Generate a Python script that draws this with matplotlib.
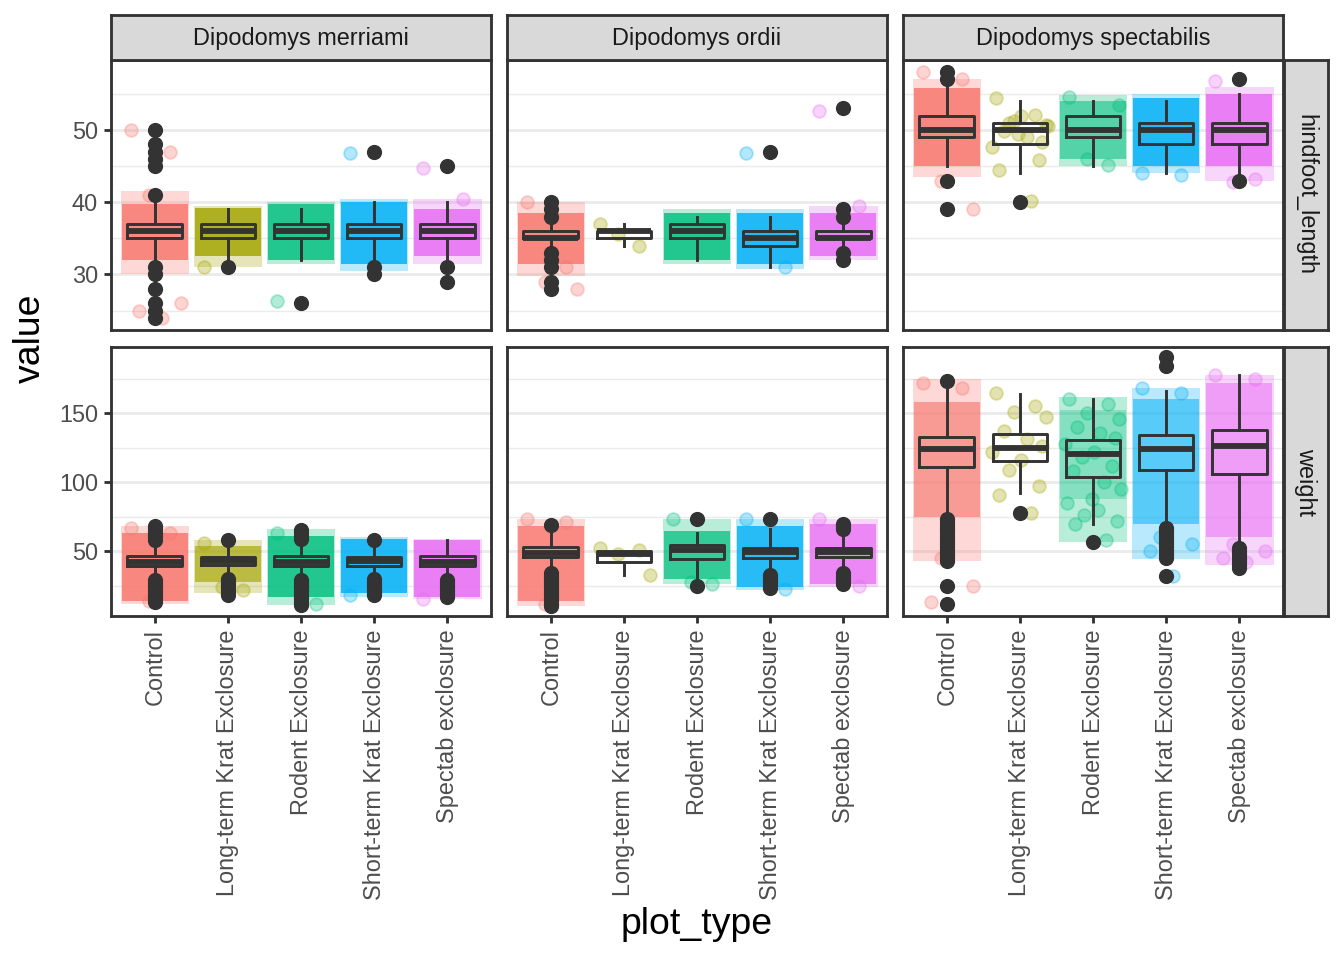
import matplotlib.pyplot as plt
import numpy as np

plt.rcParams['font.family'] = ['Liberation Sans', 'DejaVu Sans']

W, H, DPI = 1344, 960, 192

species = ['Dipodomys merriami', 'Dipodomys ordii', 'Dipodomys spectabilis']
plot_types = ['Control', 'Long-term Krat Exclosure', 'Rodent Exclosure',
              'Short-term Krat Exclosure', 'Spectab exclosure']
measures = ['hindfoot_length', 'weight']
colors = ['#F8766D', '#A3A500', '#00BF7D', '#00B0F6', '#E76BF3']

# ---- hindfoot_length: box stats [species][plot_type]
hf_q1 = [[35, 35, 35, 35, 35], [35, 35, 35, 34, 35], [49, 48, 49, 48, 48]]
hf_med = [[36, 36, 36, 36, 36], [35, 36, 36, 35, 35], [50, 50, 50, 50, 50]]
hf_q3 = [[37, 37, 37, 37, 37], [36, 36, 37, 36, 36], [52, 51, 52, 51, 51]]
hf_wlo = [[32, 32, 32, 32, 32], [34, 34, 32, 31, 34], [45, 44, 45, 44, 44]]
hf_whi = [[40, 39, 39, 40, 40], [37, 37, 38, 38, 37], [56, 54, 54, 54, 55]]
hf_out = [
    [[50, 48, 47, 46, 45, 41, 31, 30, 28, 26, 25, 24], [31], [26], [47, 31, 30], [45, 31, 29]],
    [[40, 39, 38, 33, 32, 31, 29, 28], [], [], [47], [53, 39, 38, 33, 32]],
    [[58, 57, 43, 39], [40], [], [], [57, 43]],
]
# jitter cloud extents: outer (sparse) and dense core, None = only single points
hf_band = [
    [(30, 41.5), (31, 39.5), (31.5, 40), (30.5, 40.5), (31.5, 40.5)],
    [(29.8, 40), None, (31.5, 39), (30.8, 39), (32, 39.5)],
    [(43.5, 57), None, (45, 54.8), (44, 55), (43, 56)],
]
hf_core = [
    [(32, 39.8), (32.5, 39.2), (32, 39.8), (31.5, 40), (32.5, 39)],
    [(31.5, 38.5), None, (32, 38.5), (31.5, 38.5), (32.5, 38.5)],
    [(45, 55.8), None, (46, 54), (45, 54.5), (45, 55)],
]
hf_pts = [
    [[50, 47, 41, 26, 25, 24], [31], [26.3], [46.8], [44.7, 40.5]],
    [[40, 31, 29, 28], [37, 34, 35.6], [], [46.8, 31], [52.6, 39.5]],
    [[58, 57, 43, 39],
     [54.4, 52.1, 51.2, 50.7, 49.8, 49.1, 48.4, 47.7, 52, 51, 45.8, 44.5, 40.1, 50.5, 49.5],
     [54.6, 45.2, 46, 53.5], [44, 43.8], [56.8, 43.2, 42.8]],
]

# ---- weight
wt_q1 = [[39, 40, 39, 39, 39], [45.5, 42.5, 44.5, 45, 46], [111, 115.5, 104, 109, 106]]
wt_med = [[42, 43, 42, 43, 42], [49, 48, 51, 49.3, 49.3], [124, 125, 120.4, 124, 126.4]]
wt_q3 = [[46.5, 46, 46.5, 46, 46.5], [53, 50, 54.6, 52.6, 52.5], [133, 135, 130.5, 134, 138]]
wt_wlo = [[30, 33, 30, 32, 30], [35, 33, 29.5, 35, 36], [75, 92, 70, 69, 54]]
wt_whi = [[57, 54, 57, 56, 58], [63, 50, 63, 66, 64], [170, 164, 160, 166, 178]]
wt_out = [
    [[58, 60, 62, 64, 66, 68, 13, 15, 17, 19, 21, 23, 25, 27, 29],
     [58, 18, 20, 22, 24, 26, 28, 30],
     [59, 61, 63, 65, 11, 13, 15, 17, 19, 21, 23, 25, 27, 29],
     [58, 18, 20, 22, 24, 26, 28, 30],
     [17, 19, 21, 23, 25, 27, 29]],
    [[69, 10, 12, 14, 16, 18, 20, 22, 24, 26, 28, 30, 32, 34],
     [],
     [73, 25],
     [73, 23, 25, 27, 29, 31, 33],
     [66, 68, 70, 26, 28, 30, 32, 34]],
    [[173, 43, 45, 47, 49, 51, 53, 55, 57, 59, 61, 63, 65, 67, 69, 71, 73, 25, 12],
     [78],
     [57],
     [191, 184, 45, 47, 49, 51, 53, 55, 57, 59, 61, 63, 65, 67, 32],
     [38, 40, 42, 44, 46, 48, 50, 52]],
]
wt_band = [
    [(12, 68), (20, 58), (11, 66), (17, 60), (15, 59)],
    [(10, 73), None, (26, 73), (22, 73), (24, 73)],
    [(43, 175), None, (57, 162), (44, 168), (40, 178)],
]
wt_core = [
    [(14, 63), (28, 54), (17, 61), (20, 59), (17, 58)],
    [(14, 68), None, (29.5, 64.5), (24, 68), (26, 70)],
    [(75, 158), None, (88, 152), (70, 160), (60, 172)],
]
wt_pts = [
    [[67, 63, 14], [56, 22, 24], [63, 12], [18], [15]],
    [[73, 71, 12], [52.4, 50.7, 47.6, 33], [73, 26, 28], [73, 22.5], [73, 25]],
    [[172, 168, 45, 25, 13],
     [164.5, 155, 151, 147, 137, 131, 126, 122, 116, 109, 97, 91, 78],
     [160, 157, 150, 146, 140, 136, 132, 128, 122, 118, 112, 108, 100, 95,
      88, 85, 80, 76, 72, 70, 58],
     [168, 165, 60, 55, 50, 32], [178, 175, 55, 50, 45, 42]],
]

# how opaque the dense part of each cloud looks
hf_dense = [[0.82] * 5, [0.82] * 5, [0.82, 0, 0.55, 0.82, 0.82]]
wt_dense = [[0.82, 0.65, 0.82, 0.82, 0.82], [0.78, 0, 0.72, 0.78, 0.72], [0.62, 0, 0.28, 0.52, 0.52]]

JIT = [-0.33, 0.21, -0.08, 0.36, -0.22, 0.1, 0.3, -0.38, 0.02, -0.15,
       0.26, -0.28, 0.15, 0.38, -0.02, -0.35, 0.07, -0.12, 0.33, -0.25, 0.18]

ROWS = [
    dict(q1=hf_q1, med=hf_med, q3=hf_q3, wlo=hf_wlo, whi=hf_whi, out=hf_out,
         band=hf_band, core=hf_core, pts=hf_pts, dense=hf_dense,
         ylim=(22.3, 59.7), major=[30, 40, 50], minor=[25, 35, 45, 55]),
    dict(q1=wt_q1, med=wt_med, q3=wt_q3, wlo=wt_wlo, whi=wt_whi, out=wt_out,
         band=wt_band, core=wt_core, pts=wt_pts, dense=wt_dense,
         ylim=(3, 198), major=[50, 100, 150], minor=[25, 75, 125, 175]),
]

GREY20 = '#333333'
LW = 1.1


def px_axes(fig, x0, y0, w, h):
    return fig.add_axes([x0 / W, 1 - (y0 + h) / H, w / W, h / H])


fig = plt.figure(figsize=(W / DPI, H / DPI), dpi=DPI)

col_x = [111, 507, 903]
row_y = [60, 347]
pw, ph = 380, 270
xs = np.arange(1, 6)

for r, d in enumerate(ROWS):
    for c in range(3):
        ax = px_axes(fig, col_x[c], row_y[r], pw, ph - r)
        ax.set_xlim(0.4, 5.6)
        ax.set_ylim(*d['ylim'])
        ax.set_yticks(d['major'])
        ax.set_yticks(d['minor'], minor=True)
        ax.set_xticks(xs)
        ax.grid(axis='y', which='major', color='#EBEBEB', lw=1.07, zorder=0)
        ax.grid(axis='y', which='minor', color='#EBEBEB', lw=0.55, zorder=0)
        ax.set_axisbelow(True)
        for s in ax.spines.values():
            s.set_color(GREY20)
            s.set_linewidth(1.07)
        ax.tick_params(axis='both', which='major', length=2.75, width=1.07, color=GREY20,
                       labelsize=8.8, labelcolor='#4D4D4D', pad=2.2)
        ax.tick_params(axis='y', which='minor', length=0)
        ax.tick_params(axis='x', which='both', bottom=(r == 1), labelbottom=(r == 1))
        ax.tick_params(axis='y', which='major', left=(c == 0), labelleft=(c == 0))
        if r == 1:
            ax.set_xticklabels(plot_types, rotation=90)

        # jitter clouds
        for k in range(5):
            col = colors[k]
            band = d['band'][c][k]
            core = d['core'][c][k]
            if band is not None:
                ax.bar(xs[k], band[1] - band[0], bottom=band[0], width=0.94,
                       color=col, alpha=0.28, lw=0, zorder=1)
            if core is not None:
                ax.bar(xs[k], core[1] - core[0], bottom=core[0], width=0.9,
                       color=col, alpha=d['dense'][c][k], lw=0, zorder=1)
            vals = d['pts'][c][k]
            if vals:
                offs = [JIT[i % len(JIT)] for i in range(len(vals))]
                ax.plot(xs[k] + np.array(offs), vals, 'o', ms=4.8, color=col,
                        alpha=0.3, mew=0.7, zorder=2)

        stats = []
        for k in range(5):
            stats.append(dict(q1=d['q1'][c][k], med=d['med'][c][k], q3=d['q3'][c][k],
                              whislo=d['wlo'][c][k], whishi=d['whi'][c][k],
                              fliers=d['out'][c][k]))
        ax.bxp(stats, positions=xs, widths=0.75, showcaps=False, patch_artist=False,
               boxprops=dict(color=GREY20, lw=LW),
               whiskerprops=dict(color=GREY20, lw=LW),
               medianprops=dict(color=GREY20, lw=LW * 2, solid_capstyle='butt'),
               flierprops=dict(marker='o', ms=5.2, markerfacecolor=GREY20,
                               markeredgecolor=GREY20, mew=0.5),
               manage_ticks=False, zorder=3)

        # top strips
        if r == 0:
            sax = px_axes(fig, col_x[c], 15, pw, 45)
            sax.set_facecolor('#D9D9D9')
            sax.set_xticks([])
            sax.set_yticks([])
            for s in sax.spines.values():
                s.set_color(GREY20)
                s.set_linewidth(1.07)
            sax.text(0.5, 0.47, species[c], ha='center', va='center', fontsize=8.8,
                     color='#1A1A1A', transform=sax.transAxes)
    # right strips
    rax = px_axes(fig, 1284, row_y[r], 44, ph - r)
    rax.set_facecolor('#D9D9D9')
    rax.set_xticks([])
    rax.set_yticks([])
    for s in rax.spines.values():
        s.set_color(GREY20)
        s.set_linewidth(1.07)
    rax.text(0.5, 0.5, measures[r], ha='center', va='center', fontsize=8.8,
             color='#1A1A1A', rotation=-90, transform=rax.transAxes)

fig.text(30 / W, 1 - 338 / H, 'value', rotation=90, ha='center', va='center', fontsize=14)
fig.text(697 / W, 1 - 925 / H, 'plot_type', ha='center', va='center', fontsize=14)

fig.savefig('out.png', dpi=DPI)
